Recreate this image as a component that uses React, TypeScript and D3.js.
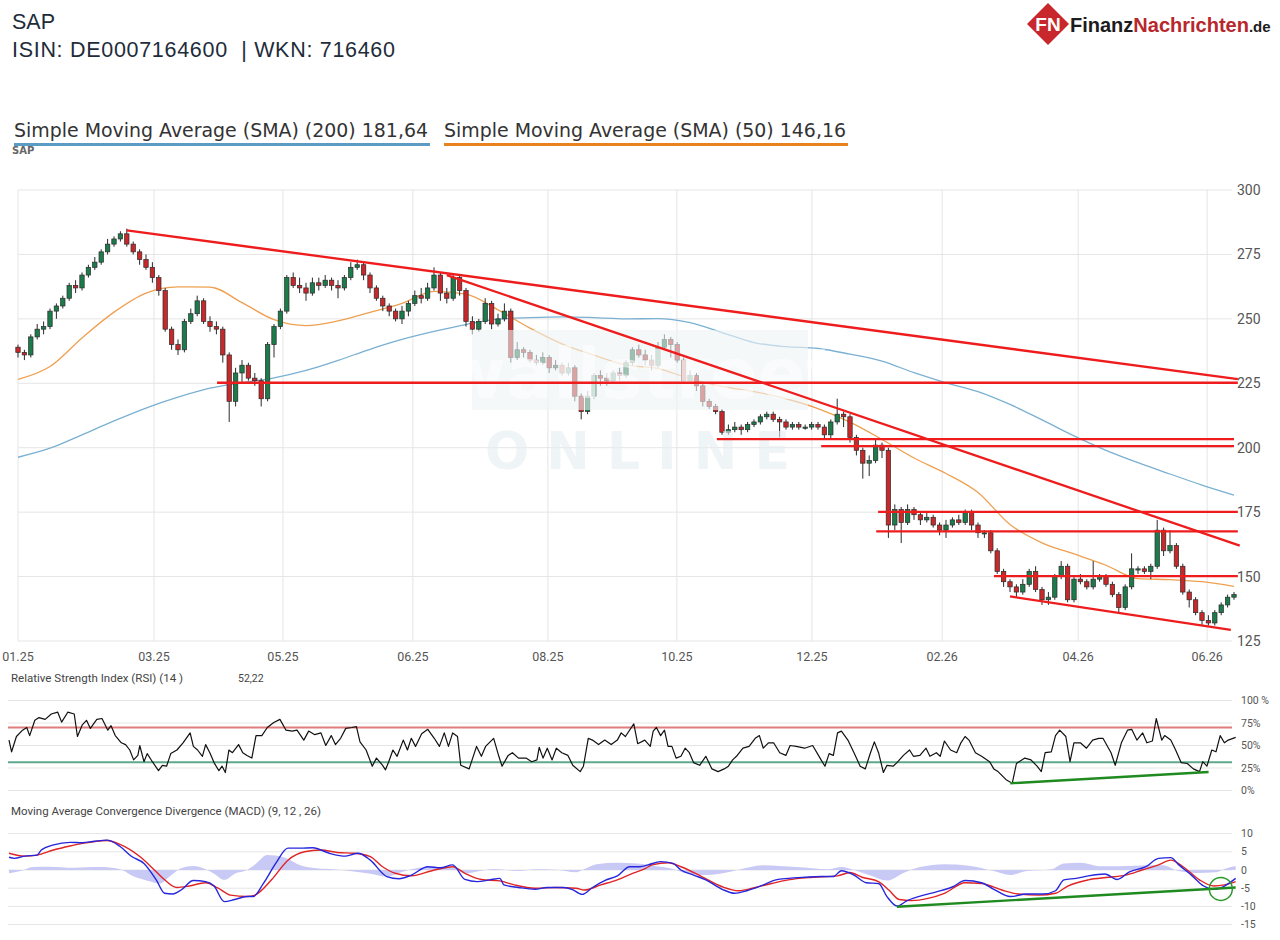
import { useRef, useEffect } from "react";
import * as d3 from "d3";

// one candle per two trading days, day 0 = start of 01.25
const candleStep = 2;
const firstOpen = 239;
const closes = [
  237, 236, 243, 246, 247, 253, 255, 258, 263, 262,
  267, 270, 272, 276, 279, 281, 283, 279, 276, 273,
  270, 266, 261, 246, 240, 238, 249, 252, 257, 249,
  247, 246, 236, 218, 229, 232, 227, 226, 219, 240,
  247, 253, 266, 263, 262, 260, 264, 263, 265, 263,
  262, 266, 270, 271, 267, 262, 258, 255, 253, 250,
  253, 256, 259, 258, 262, 267, 260, 258, 266, 261,
  249, 246, 249, 256, 248, 250, 253, 235, 238, 237,
  234, 233, 235, 231, 232, 229, 231, 220, 214, 220,
  228, 227, 226, 229, 228, 233, 238, 236, 234, 232,
  239, 242, 240, 234, 226, 228, 224, 218, 216, 214,
  206, 207, 208, 207, 209, 210, 212, 213, 211, 210,
  208, 209, 208, 208, 209, 208, 205, 210, 213, 212,
  204, 199, 194, 195, 201, 199, 170, 176, 171, 176,
  174, 172, 173, 170, 168, 170, 172, 171, 175, 170,
  167, 167, 160, 152, 148, 146, 144, 147, 152, 145,
  141, 142, 150, 154, 141, 149, 148, 146, 149, 150,
  147, 143, 138, 146, 153, 153, 152, 154, 168, 160,
  162, 154, 144, 141, 136, 133, 132, 136, 139, 142, 143,
];
const highs = [
  240, 238, 244, 248, 249, 254, 256, 259, 264, 265,
  268, 271, 274, 277, 281, 282, 284, 285, 280, 277,
  275, 272, 267, 262, 247, 242, 250, 254, 259, 258,
  251, 249, 247, 237, 231, 234, 233, 229, 227, 241,
  248, 254, 267, 268, 266, 264, 266, 266, 267, 266,
  265, 267, 272, 273, 272, 268, 263, 259, 256, 254,
  255, 257, 261, 262, 264, 270, 268, 262, 267, 267,
  262, 251, 250, 258, 257, 252, 256, 254, 241, 239,
  238, 236, 237, 236, 234, 233, 233, 232, 221, 222,
  229, 230, 229, 230, 231, 234, 239, 240, 238, 236,
  241, 244, 243, 241, 235, 230, 229, 225, 219, 217,
  215, 209, 210, 209, 210, 211, 213, 214, 214, 212,
  211, 210, 210, 209, 210, 210, 209, 211, 219, 214,
  213, 205, 200, 197, 203, 202, 200, 178, 177, 178,
  177, 175, 175, 174, 171, 172, 173, 174, 176, 176,
  171, 168, 168, 161, 153, 149, 147, 149, 153, 154,
  146, 144, 151, 156, 155, 150, 151, 149, 156, 151,
  151, 148, 144, 147, 159, 154, 154, 155, 172, 169,
  168, 163, 155, 145, 142, 137, 135, 137, 140, 143, 144,
];
const lows = [
  235, 234, 235, 242, 244, 246, 250, 254, 257, 260,
  261, 266, 269, 271, 275, 278, 280, 278, 275, 271,
  269, 264, 259, 245, 238, 236, 237, 248, 251, 248,
  245, 244, 233, 210, 216, 225, 226, 224, 216, 218,
  235, 246, 252, 262, 260, 257, 259, 261, 262, 261,
  258, 261, 265, 269, 265, 260, 257, 253, 251, 249,
  248, 251, 255, 256, 257, 261, 257, 256, 257, 259,
  247, 244, 245, 248, 246, 247, 249, 233, 234, 235,
  233, 232, 232, 229, 230, 228, 228, 218, 211, 213,
  219, 224, 224, 225, 226, 227, 232, 235, 232, 230,
  231, 238, 235, 233, 225, 225, 222, 216, 215, 213,
  205, 205, 206, 205, 206, 208, 209, 211, 210, 204,
  207, 207, 207, 207, 207, 207, 203, 203, 209, 208,
  202, 197, 188, 189, 194, 196, 165, 168, 163, 170,
  172, 170, 171, 169, 166, 165, 169, 170, 170, 168,
  165, 165, 159, 151, 146, 144, 142, 143, 146, 144,
  139, 139, 141, 149, 140, 140, 147, 145, 145, 148,
  146, 142, 136, 137, 145, 151, 151, 149, 153, 158,
  159, 153, 143, 138, 135, 131, 131, 131, 135, 138, 141,
];

// moving averages, one value every 10 trading days
const smaStep = 10;
const sma50 = [
  226.5, 231.5, 242.6, 252.6, 260, 262.4, 262.3, 256.3, 249.7, 247.4,
  249.2, 252.5, 256, 260.7, 259.6, 253.5, 246.4, 240.3, 235.9, 232.1,
  230.7, 226.8, 223.8, 221.8, 219, 215.2, 209.9, 203.2, 196, 190,
  182.6, 170.2, 163.1, 158.8, 154.4, 149.2, 148.8, 148, 146.2,
];
const sma200 = [
  196.3, 199.8, 205, 210.4, 215.4, 219.6, 223.1, 225.2, 227.1, 230,
  233.9, 238.2, 242, 245.1, 247.8, 249.9, 250.5, 250.8, 250.5, 250,
  250.1, 248.5, 244.7, 240.8, 239.2, 238.5, 236.3, 233.6, 229.1, 225.2,
  221.8, 216.8, 210.8, 204.6, 199, 194.2, 189.8, 185.5, 181.6,
];

const xTickDays = [0, 42.5, 82.8, 123.4, 165.6, 205.9, 248.1, 288.8, 331.3, 371.6];
const xTickLabels = ["01.25", "03.25", "05.25", "06.25", "08.25", "10.25", "12.25", "02.26", "04.26", "06.26"];
const priceTicks = [125, 150, 175, 200, 225, 250, 275, 300];
const rsiTicks = [0, 25, 50, 75, 100];
const rsiTickLabels = ["0%", "25%", "50%", "75%", "100 %"];
const macdTicks = [-15, -10, -5, 0, 5, 10];

// drawn trend lines [dayA, priceA, dayB, priceB]
const trendLines = [
  [34, 284.3, 381.2, 226.6],
  [134, 267, 381.8, 162],
  [62.2, 225.2, 381.2, 225.2],
  [218.4, 203.3, 380, 203.3],
  [251, 200.6, 380, 200.6],
  [268.8, 175.1, 381.2, 175.1],
  [268.2, 167.5, 381.2, 167.5],
  [305, 150.2, 381.2, 150.2],
  [310, 142.3, 379, 129.3],
];

// RSI (14) as [day, value]
const rsiPoints = [
  [0, 56], [0.8, 43], [2.3, 60], [4.2, 67], [5.5, 70], [6.4, 61], [8, 78], [9.3, 81], [11.2, 79], [13.1, 85],
  [15.1, 87], [16.3, 76], [18.2, 87], [20.2, 85], [21.2, 60], [22.7, 73], [24, 78], [25.2, 69], [27.2, 79], [28.8, 80],
  [30.6, 67], [31.6, 72], [32.9, 61], [34.8, 53], [36.1, 51], [37.4, 45], [38.6, 34], [39.9, 39], [40.5, 50], [41.8, 32],
  [42.8, 41], [44.4, 32], [46.3, 22], [47.5, 28], [48.8, 27], [50.1, 41], [52, 45], [53.9, 53], [56.1, 64], [57.1, 49],
  [58.4, 45], [59.9, 38], [60.9, 51], [62.2, 42], [63.5, 31], [65, 22], [66, 27], [67, 20], [68.1, 45], [69.2, 42],
  [71.1, 51], [72.4, 42], [73.7, 39], [75.2, 36], [76.5, 61], [78.3, 61], [80, 70], [82, 75.5], [83.9, 79], [85.8, 67],
  [87.7, 66], [89.2, 67], [91.3, 56], [92.8, 66], [94.7, 62], [96.6, 64], [98.1, 50], [99.8, 61], [101.1, 51], [102.7, 58],
  [104.3, 69], [106.2, 70], [107.6, 71], [108.7, 54], [110.6, 45], [112.5, 27], [113.8, 36], [115.7, 28], [116.6, 23], [117.6, 32],
  [118.9, 45], [120.2, 38], [122.1, 56], [123.4, 45], [124.6, 58], [125.9, 49], [127.8, 63], [129.7, 68], [131.7, 58], [133.3, 49],
  [134.8, 64], [136.1, 49], [137.4, 64], [138.9, 60], [139.9, 28], [142.5, 24], [144.8, 49], [146.3, 38], [147.6, 49], [150.1, 58],
  [151.7, 38], [152.7, 27], [154.6, 39], [155.9, 42], [157.8, 36], [160.1, 36], [161.9, 32], [163.5, 34], [164.2, 48], [165.4, 36],
  [166.7, 47], [168.2, 34], [169.5, 47], [171.2, 42], [173.1, 39], [174.6, 28], [176.9, 21], [177.9, 27], [179.4, 58], [180.7, 56],
  [182.6, 51], [184.5, 56], [186.5, 51], [188.4, 56], [189.6, 64], [190.9, 60], [193.5, 74], [194.7, 52], [196.9, 56], [198.6, 49],
  [199.5, 66], [200.5, 70], [201.8, 61], [203, 67], [204.1, 49], [205.3, 49], [206.6, 36], [208.1, 38], [209.4, 47], [210.7, 42],
  [212, 31], [213.9, 28], [215.8, 38], [217.7, 24], [219.6, 21], [221.5, 24], [222.8, 27], [224.1, 34], [225.3, 38], [227.3, 47],
  [229.2, 49], [231.1, 58], [232.4, 61], [233.6, 47], [235.2, 53], [236.8, 53], [238.7, 42], [240.6, 39], [241.9, 50], [243.8, 49],
  [246.4, 47], [248.9, 50], [251.5, 34], [252.7, 27], [254, 41], [255.3, 39], [256.6, 64], [257.8, 66], [259.8, 56], [261.7, 42],
  [263.6, 27], [265.2, 24], [266.8, 42], [268, 54], [269.3, 42], [270.8, 20], [271.9, 28], [273.8, 27], [275, 31], [277, 39],
  [278.9, 45], [280.1, 38], [282.1, 39], [284, 47], [285.2, 38], [287.2, 42], [288.4, 38], [289.7, 55], [291.6, 45], [293.5, 42],
  [294.8, 53], [296.1, 60], [297.3, 56], [299.3, 42], [301.2, 38], [303.7, 32], [305, 24], [306.3, 21], [308.8, 12], [310.7, 8],
  [312, 30], [314.6, 36], [316.5, 34], [318.4, 27], [319.7, 21], [320.9, 42], [322.8, 43], [324.1, 61], [325.4, 67], [327.3, 60],
  [328.6, 32], [329.8, 53], [331.8, 53], [333.7, 47], [335.6, 56], [337.5, 58], [338.8, 58], [341.3, 42], [342.6, 28], [344.5, 53],
  [346.4, 67], [347.7, 68], [349.3, 56], [351.1, 64], [352.4, 53], [354.1, 55], [355.3, 80], [357, 56], [357.9, 61], [359.8, 56],
  [361.3, 45], [363, 31], [364.9, 30], [366.8, 24], [368.7, 21], [369.7, 32], [371, 27], [372.5, 45], [373.8, 43], [375.1, 61],
  [376.4, 53], [377.6, 56], [379.9, 59],
];
const rsiBands = [70, 31.5];
const rsiDivergence = [[310.1, 8], [371.5, 20.5]];

// MACD (9, 12, 26) as [day, value]
const macdLine = [
  [0, 3.5], [1.7, 3.2], [4.9, 3.8], [8.7, 4.1], [10, 5.5], [13.8, 6.9], [18.9, 7.6], [22.7, 7.5], [26.5, 7.9], [30.3, 8.2],
  [34.2, 6.6], [38, 3.7], [41.8, 1.8], [45.6, -2.7], [48.2, -6.4], [50.7, -6.6], [53.3, -5.5], [57.1, -2.9], [60.9, -3.2], [63.5, -4.4],
  [66.7, -8.7], [69.9, -8.1], [73.7, -7.3], [75.6, -7.3], [78.8, -3.7], [82.6, 1.8], [86.4, 6], [90.2, 6], [94.1, 6.1], [99.2, 4.6],
  [104.3, 3.8], [108.1, 4.6], [111.9, 2.7], [117, -1.8], [120.8, -2.4], [124.6, -1.4], [129.7, 0.9], [133.6, 0.6], [137.4, 1.4], [141.2, -2.6],
  [145, -3.2], [148.9, -2.7], [152, -2.3], [153.3, -4.1], [157.8, -4.8], [162.9, -5.3], [166.7, -4.8], [171.8, -4.8], [174.3, -5.3], [177.5, -6.7],
  [180.7, -4.8], [184.5, -2.9], [188.4, -1.6], [192.2, 0.9], [195.4, 0.9], [197.9, 1.4], [201.8, 2.3], [205.6, 1.8], [208.1, 0], [212, -1.4],
  [215.8, -2.7], [220.9, -5.3], [224.7, -6.4], [228.5, -5.7], [233.6, -4.1], [237.5, -2.7], [241.3, -2.3], [246.4, -2], [251.5, -1.8], [255.3, -1.8],
  [257.8, -0.2], [261.7, -1.4], [265.5, -3.5], [269.3, -3.7], [271.9, -7.3], [275, -9.9], [278.2, -8.4], [283.3, -6.9], [287.2, -6], [292.3, -4.6],
  [296.1, -2.9], [301.2, -3.5], [305, -5.3], [310.1, -7.3], [315.2, -6.6], [320.3, -6.6], [324.1, -5.7], [326.7, -2.7], [330.5, -2.3], [334.3, -1.6],
  [339.4, -1.1], [343.2, -2.6], [347, -0.5], [352.1, 0.9], [356, 3.2], [359.8, 3.4], [362.3, 1.4], [366.2, -1.4], [370, -4.4], [373.2, -5.3],
  [376.4, -4.4], [379.9, -2.3],
];
const signalLine = [
  [0, 4.6], [4.9, 3.8], [8.7, 4.1], [13.8, 5.5], [18.9, 6.6], [22.7, 7.3], [30.3, 8.1], [34.2, 7.1], [40.5, 3.7], [45.6, -0.5],
  [48.2, -2.7], [52, -4.8], [55.8, -4.4], [60.9, -3.5], [64.8, -5], [68.6, -6.9], [73.7, -7.3], [76.2, -6.9], [81.3, -2.7], [86.4, 2.7],
  [91.5, 5], [96.6, 5.5], [101.7, 4.8], [106.8, 4.6], [111.9, 3.7], [115.7, 0.9], [119.6, -0.9], [124.6, -1.6], [131, -0.2], [137.4, 0.9],
  [141.2, -0.9], [146.3, -2.6], [152, -3], [156.5, -4.1], [162.9, -5], [169.2, -4.8], [175.6, -5], [178.2, -5.5], [183.3, -4.1], [188.4, -2.7],
  [193.5, -0.8], [197, 0.4], [199.2, 1.4], [204.3, 2], [208.1, 0.9], [214.5, -1.8], [220.9, -4.6], [226, -5.7], [231.1, -4.8], [236.2, -3.7],
  [241.3, -2.7], [248.9, -2], [256.6, -1.6], [260.4, -0.7], [264.2, -2], [269.3, -3.2], [272.5, -5.5], [275.7, -8.1], [279.5, -8.4], [284.6, -7.8],
  [289.7, -6.4], [296.1, -3.5], [301.2, -3.7], [307.5, -5.5], [312.6, -6.6], [319, -6.9], [324.1, -6.4], [327.9, -4.4], [334.3, -2.7], [340.7, -2],
  [345.8, -1.4], [350.9, 0], [356, 1.4], [359.8, 2.7], [363.6, 0.9], [368.7, -2.7], [373.2, -4.4], [376.4, -4.1], [379.9, -3.2],
];
const macdHist = [
  [0, -0.9], [3.6, -0.3], [7.4, 0.8], [12.5, 0.9], [20.1, 0.6], [27.8, 0.8], [34.2, 0.3], [38, -1.5], [43.1, -3], [46.9, -3.7],
  [49.5, -2], [53.3, 0.5], [57.1, 1.1], [60.9, 0.2], [63.5, -1], [66.7, -2.7], [69.9, -1], [73.7, 0], [76.2, 1.5], [80, 4.1],
  [85.1, 3.5], [90.2, 1.3], [95.3, 0.5], [100.4, 0.2], [105.5, -0.3], [111.9, -1], [117, -1.8], [120.8, -0.8], [124.6, 0.2], [131, 0.9],
  [137.4, 0.6], [141.2, -1], [145, -0.4], [150.1, 0.3], [157.8, -0.3], [162.9, 0.2], [169.2, 0.1], [175.6, -0.6], [178.2, 0.3], [182, 1.6],
  [188.4, 2], [194.7, 1.8], [200.5, 1], [205.6, 0.3], [209.4, -0.8], [215.8, -1.4], [223.4, -0.5], [228.5, 0.6], [233.6, 1.3], [243.8, 0.8],
  [254, 0.2], [257.8, 0.8], [261.7, 0], [266.8, -1.5], [271.9, -2.9], [277, -0.8], [282.1, 0.8], [289.7, 1.6], [297.3, 1.2], [305, -0.3],
  [310.1, -1.4], [315.2, -0.3], [322.8, 0.2], [326.7, 1.8], [331.8, 2], [338.2, 1], [348.4, 1.2], [357.3, 1.3], [362.3, -0.3], [367.5, -0.8],
  [373.8, -0.6], [376.4, 0.3], [379.9, 1.1],
];
const macdDivergence = [[275, -10.1], [379.9, -4.8]];
const macdCross = [375.3, -5.2];

export default function App() {
  const svgRef = useRef<SVGSVGElement>(null);

  useEffect(() => {
    if (!svgRef.current) return;
    document.body.style.margin = "0";
    const svg = d3.select(svgRef.current);
    svg.selectAll("*").remove();

    const W = 1280;
    const H = 940;
    svg.append("rect").attr("width", W).attr("height", H).attr("fill", "#fff");

    const grid = "#e5e5e5";
    const axisText = "#555";
    const small = "Roboto, 'Open Sans', sans-serif";

    // scales
    const x = d3.scaleLinear().domain([0, 380]).range([18, 1234]);
    const y = d3.scaleLinear().domain([125, 300]).range([641, 190]);
    const xi = d3.scaleLinear().domain([0, 380]).range([9, 1236]);
    const yRsi = d3.scaleLinear().domain([0, 100]).range([790.5, 700.5]);
    const yMacd = d3.scaleLinear().domain([-15, 10]).range([924.6, 833.6]);

    // header
    const head = svg.append("g").attr("font-family", "'Liberation Sans', Arial, sans-serif").attr("fill", "#1e2c3a");
    head.append("text").attr("x", 12).attr("y", 29).attr("font-size", 21.5).text("SAP");
    head.append("text").attr("x", 12).attr("y", 57).attr("font-size", 21.5)
      .attr("textLength", 383).attr("lengthAdjust", "spacing").style("white-space", "pre")
      .text("ISIN: DE0007164600  | WKN: 716460");

    // logo
    const logo = svg.append("g");
    logo.append("path")
      .attr("d", "M1048,3 L1069,24 L1048,45 L1027,24 Z")
      .attr("fill", "#c8282c");
    logo.append("text").attr("x", 1048).attr("y", 31).attr("text-anchor", "middle")
      .attr("font-family", "'Liberation Sans', Arial, sans-serif").attr("font-weight", "bold")
      .attr("font-size", 19).attr("fill", "#fff").text("FN");
    const lt = logo.append("text").attr("x", 1070).attr("y", 32)
      .attr("font-family", "'Liberation Sans', Arial, sans-serif").attr("font-weight", "bold").attr("font-size", 20);
    lt.append("tspan").attr("fill", "#1c1c1c").text("Finanz");
    lt.append("tspan").attr("fill", "#b8272c").text("Nachrichten");
    lt.append("tspan").attr("fill", "#1c1c1c").attr("font-size", 15).text(".de");

    // legend
    const leg = svg.append("g").attr("font-family", "'DejaVu Sans', Verdana, sans-serif").attr("font-size", 18.8).attr("fill", "#333");
    leg.append("text").attr("x", 14).attr("y", 137).attr("textLength", 414).attr("lengthAdjust", "spacingAndGlyphs")
      .text("Simple Moving Average (SMA) (200) 181,64");
    leg.append("rect").attr("x", 14).attr("y", 143).attr("width", 416).attr("height", 3).attr("fill", "#5b9bc4");
    leg.append("text").attr("x", 444).attr("y", 137).attr("textLength", 402).attr("lengthAdjust", "spacingAndGlyphs")
      .text("Simple Moving Average (SMA) (50) 146,16");
    leg.append("rect").attr("x", 444).attr("y", 143).attr("width", 404).attr("height", 3).attr("fill", "#e8821e");
    svg.append("text").attr("x", 12).attr("y", 154).attr("font-family", "'DejaVu Sans', sans-serif")
      .attr("font-size", 10).attr("font-weight", "bold").attr("fill", "#666").text("SAP");

    // price grid
    svg.append("g").selectAll("line").data(priceTicks).enter().append("line")
      .attr("x1", x(0)).attr("x2", 1232).attr("y1", (d) => y(d)).attr("y2", (d) => y(d))
      .attr("stroke", grid).attr("stroke-width", 1);
    svg.append("g").selectAll("line").data(xTickDays).enter().append("line")
      .attr("x1", (d) => x(d)).attr("x2", (d) => x(d)).attr("y1", y(300)).attr("y2", y(125))
      .attr("stroke", grid).attr("stroke-width", 1);
    svg.append("g").selectAll("text").data(priceTicks).enter().append("text")
      .attr("x", 1237).attr("y", (d) => y(d)).attr("dy", "0.36em")
      .attr("font-family", small).attr("font-size", 14).attr("fill", axisText).text((d) => d);
    svg.append("g").selectAll("text").data(xTickDays).enter().append("text")
      .attr("x", (d) => x(d)).attr("y", 661).attr("text-anchor", "middle")
      .attr("font-family", small).attr("font-size", 12.5).attr("fill", axisText)
      .text((_, i) => xTickLabels[i]);

    // moving averages
    const smaLine = d3.line<number>()
      .x((_, i) => x(i * smaStep))
      .y((d) => y(d))
      .curve(d3.curveMonotoneX);
    svg.append("path").attr("d", smaLine(sma200)).attr("fill", "none").attr("stroke", "#7ab0d2").attr("stroke-width", 1.3);
    svg.append("path").attr("d", smaLine(sma50)).attr("fill", "none").attr("stroke", "#eea050").attr("stroke-width", 1.3);

    // candles
    const candles = closes.map((c, i) => {
      const o = i === 0 ? firstOpen : closes[i - 1];
      return { day: i * candleStep, o, c, h: Math.max(highs[i], o, c), l: Math.min(lows[i], o, c) };
    });
    const cg = svg.append("g");
    cg.selectAll("line").data(candles).enter().append("line")
      .attr("x1", (d) => x(d.day)).attr("x2", (d) => x(d.day))
      .attr("y1", (d) => y(d.h)).attr("y2", (d) => y(d.l))
      .attr("stroke", "#2b2b2b").attr("stroke-width", 1);
    const bw = 4.4;
    cg.selectAll("rect").data(candles).enter().append("rect")
      .attr("x", (d) => x(d.day) - bw / 2)
      .attr("width", bw)
      .attr("y", (d) => y(Math.max(d.o, d.c)))
      .attr("height", (d) => Math.max(1.2, Math.abs(y(d.o) - y(d.c))))
      .attr("fill", (d) => (d.c >= d.o ? "#1b7b4b" : "#c8282a"))
      .attr("stroke", "#2b2b2b").attr("stroke-width", 0.7);

    // watermark
    const wm = svg.append("g");
    wm.append("rect").attr("x", 472).attr("y", 330).attr("width", 336).attr("height", 80)
      .attr("fill", "#eef3f5").attr("opacity", 0.6);
    wm.append("text").attr("x", 640).attr("y", 398).attr("text-anchor", "middle")
      .attr("font-family", "'DejaVu Sans', sans-serif").attr("font-weight", "bold").attr("font-size", 70)
      .attr("fill", "#ffffff").attr("opacity", 0.55).text("wallstreet");
    wm.append("text").attr("x", 485).attr("y", 469)
      .attr("font-family", "'DejaVu Sans', sans-serif").attr("font-weight", "bold").attr("font-size", 52)
      .attr("textLength", 305).attr("lengthAdjust", "spacing")
      .attr("fill", "#e6eef1").attr("opacity", 0.6).text("ONLINE");

    // trend lines
    svg.append("g").selectAll("line").data(trendLines).enter().append("line")
      .attr("x1", (d) => x(d[0])).attr("y1", (d) => y(d[1]))
      .attr("x2", (d) => x(d[2])).attr("y2", (d) => y(d[3]))
      .attr("stroke", "#ee1c1c").attr("stroke-width", 2.3);

    // RSI panel
    svg.append("text").attr("x", 11).attr("y", 682).attr("font-family", small).attr("font-size", 10.5)
      .attr("textLength", 172).attr("lengthAdjust", "spacingAndGlyphs")
      .attr("fill", "#444").text("Relative Strength Index (RSI) (14 )");
    svg.append("text").attr("x", 238).attr("y", 682).attr("font-family", small).attr("font-size", 10.5)
      .attr("fill", "#444").text("52,22");
    svg.append("g").selectAll("line").data(rsiTicks).enter().append("line")
      .attr("x1", 8).attr("x2", 1232).attr("y1", (d) => yRsi(d)).attr("y2", (d) => yRsi(d))
      .attr("stroke", grid).attr("stroke-width", 1);
    svg.append("g").selectAll("text").data(rsiTicks).enter().append("text")
      .attr("x", 1241).attr("y", (d) => yRsi(d)).attr("dy", "0.35em")
      .attr("font-family", small).attr("font-size", 10.5).attr("fill", axisText)
      .text((_, i) => rsiTickLabels[i]);
    svg.append("g").selectAll("line").data(rsiBands).enter().append("line")
      .attr("x1", 8).attr("x2", 1232).attr("y1", (d) => yRsi(d)).attr("y2", (d) => yRsi(d))
      .attr("stroke", (_, i) => (i === 0 ? "#e07c7c" : "#5fa88c")).attr("stroke-width", 2);
    const ptLine = (ys: d3.ScaleLinear<number, number>) =>
      d3.line<number[]>().x((d) => xi(d[0])).y((d) => ys(d[1]));
    svg.append("path").attr("d", ptLine(yRsi)(rsiPoints)).attr("fill", "none")
      .attr("stroke", "#111").attr("stroke-width", 1.2).attr("stroke-linejoin", "round");
    svg.append("path").attr("d", ptLine(yRsi)(rsiDivergence)).attr("fill", "none")
      .attr("stroke", "#1f8a1f").attr("stroke-width", 2.4);

    // MACD panel
    svg.append("text").attr("x", 11).attr("y", 815).attr("font-family", small).attr("font-size", 10.5)
      .attr("textLength", 310).attr("lengthAdjust", "spacingAndGlyphs")
      .attr("fill", "#444").text("Moving Average Convergence Divergence (MACD) (9, 12 , 26)");
    svg.append("g").selectAll("line").data(macdTicks).enter().append("line")
      .attr("x1", 8).attr("x2", 1232).attr("y1", (d) => yMacd(d)).attr("y2", (d) => yMacd(d))
      .attr("stroke", grid).attr("stroke-width", 1);
    svg.append("g").selectAll("text").data(macdTicks).enter().append("text")
      .attr("x", 1241).attr("y", (d) => yMacd(d)).attr("dy", "0.35em")
      .attr("font-family", small).attr("font-size", 10.5).attr("fill", axisText).text((d) => d);
    const histArea = d3.area<number[]>()
      .x((d) => xi(d[0])).y0(yMacd(0)).y1((d) => yMacd(d[1]))
      .curve(d3.curveMonotoneX);
    svg.append("path").attr("d", histArea(macdHist)).attr("fill", "#c9c9f6");
    svg.append("path").attr("d", ptLine(yMacd).curve(d3.curveMonotoneX)(signalLine)).attr("fill", "none")
      .attr("stroke", "#e02424").attr("stroke-width", 1.4);
    svg.append("path").attr("d", ptLine(yMacd).curve(d3.curveMonotoneX)(macdLine)).attr("fill", "none")
      .attr("stroke", "#2626dc").attr("stroke-width", 1.4);
    svg.append("path").attr("d", ptLine(yMacd)(macdDivergence)).attr("fill", "none")
      .attr("stroke", "#1f8a1f").attr("stroke-width", 2.4);
    svg.append("circle").attr("cx", xi(macdCross[0])).attr("cy", yMacd(macdCross[1])).attr("r", 11.5)
      .attr("fill", "none").attr("stroke", "#2a9a2a").attr("stroke-width", 1.5);
  }, []);

  return <svg ref={svgRef} width={1280} height={940} style={{ display: "block" }} />;
}
